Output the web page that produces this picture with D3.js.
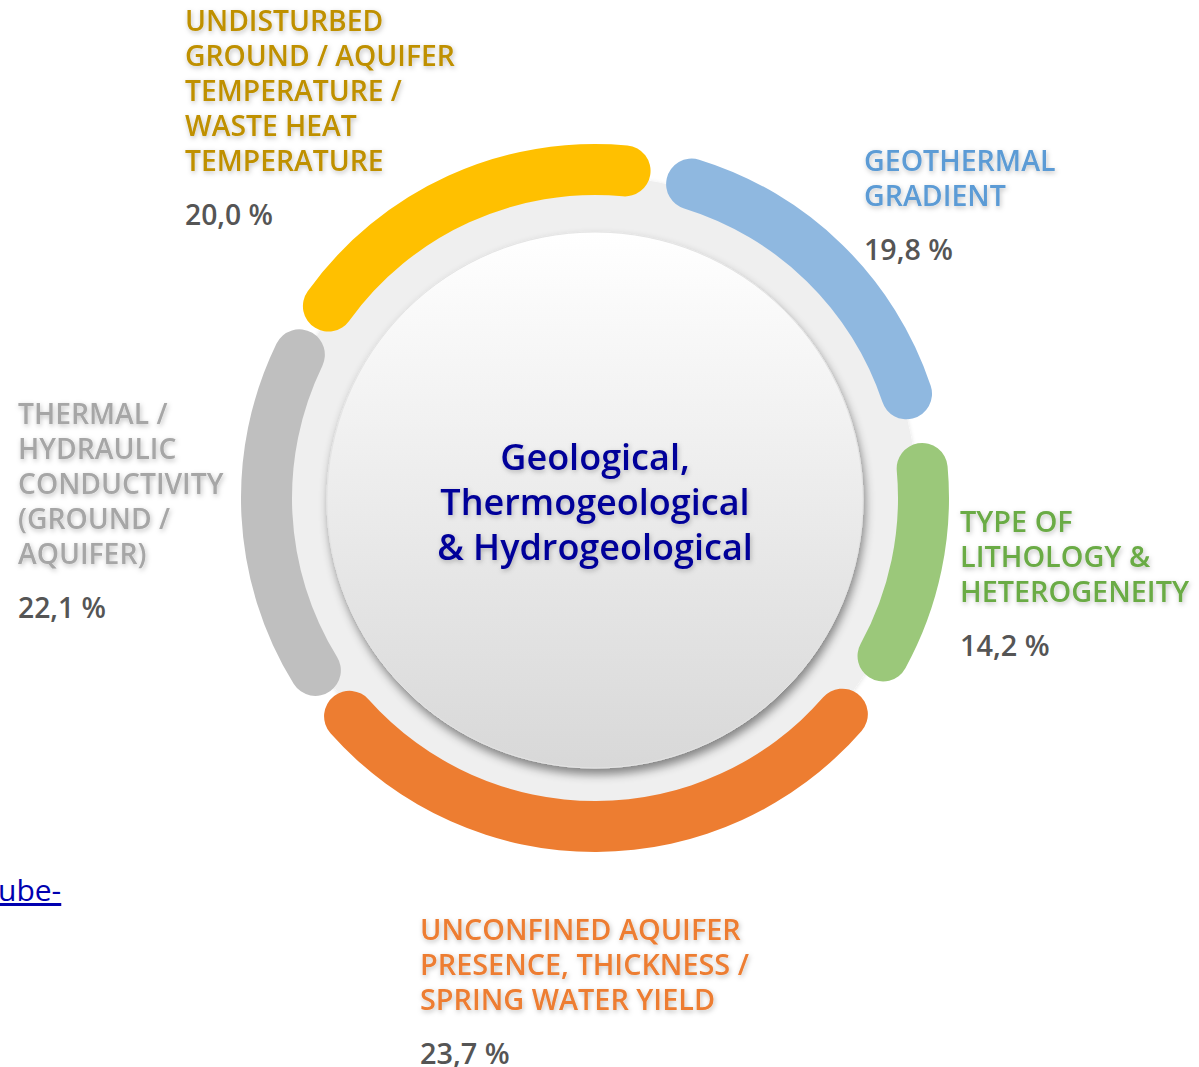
<!DOCTYPE html>
<html>
<head>
<meta charset="utf-8">
<script src="https://cdn.jsdelivr.net/npm/d3@7"></script>
<style>
  body { margin: 0; background: #fff; overflow: hidden; }
  svg { display: block; font-family: "Open Sans", sans-serif; }
</style>
</head>
<body>
<div id="svg-container"></div>
<script>
// data
const categories = [
  ["UNDISTURBED", "GROUND / AQUIFER", "TEMPERATURE /", "WASTE HEAT", "TEMPERATURE"],
  ["GEOTHERMAL", "GRADIENT"],
  ["TYPE OF", "LITHOLOGY &", "HETEROGENEITY"],
  ["UNCONFINED AQUIFER", "PRESENCE, THICKNESS /", "SPRING WATER YIELD"],
  ["THERMAL /", "HYDRAULIC", "CONDUCTIVITY", "(GROUND /", "AQUIFER)"]
];
const shares = [20.0, 19.8, 14.2, 23.7, 22.1];
// degrees of ring each arc covers in the graphic, and the gap after it
const arcSpan = [68.4, 63.3, 42.8, 106.1, 66.4];
const arcGap = [2.95, 4.44, 3.5, 1.1, 1.0];
const centerTitle = ["Geological,", "Thermogeological", "& Hydrogeological"];

// styles
const arcColors = ["#FFC000", "#8FB8E0", "#9BC87A", "#ED7D31", "#BFBFBF"];
const textColors = ["#BF9000", "#5B9BD5", "#6AAB45", "#ED7D31", "#A6A6A6"];
const labelPos = [
  { x: 185, y: 31, sx: 1.01 },
  { x: 864, y: 171, sx: 1.02 },
  { x: 960, y: 532, sx: 1.03 },
  { x: 420, y: 940, sx: 1.03 },
  { x: 18, y: 424, sx: 1.01 }
];

const width = 1199, height = 1067;
const cx = 595, cy = 498;
const deg = Math.PI / 180;
const formatPct = (v) => d3.format(".1f")(v).replace(".", ",") + " %";

const svg = d3.select("#svg-container").append("svg")
  .attr("width", width).attr("height", height);

const defs = svg.append("defs");
const grad = defs.append("linearGradient").attr("id", "disk")
  .attr("x1", 0).attr("y1", 0).attr("x2", 0).attr("y2", 1);
grad.append("stop").attr("offset", "0%").attr("stop-color", "#ffffff");
grad.append("stop").attr("offset", "100%").attr("stop-color", "#d8d8d8");

const shadow = defs.append("filter").attr("id", "diskShadow")
  .attr("x", "-20%").attr("y", "-20%").attr("width", "140%").attr("height", "140%");
shadow.append("feDropShadow").attr("dx", 2).attr("dy", 6).attr("stdDeviation", 5)
  .attr("flood-color", "#000").attr("flood-opacity", 0.45);

const ringShadow = defs.append("filter").attr("id", "ringShadow")
  .attr("x", "-20%").attr("y", "-20%").attr("width", "140%").attr("height", "140%");
ringShadow.append("feDropShadow").attr("dx", 0).attr("dy", 1).attr("stdDeviation", 2)
  .attr("flood-color", "#000").attr("flood-opacity", 0.12);

const txtShadow = defs.append("filter").attr("id", "txtShadow")
  .attr("x", "-10%").attr("y", "-40%").attr("width", "120%").attr("height", "180%");
txtShadow.append("feDropShadow").attr("dx", 1).attr("dy", 2).attr("stdDeviation", 2.5)
  .attr("flood-color", "#000").attr("flood-opacity", 0.25);

// background ring
svg.append("circle")
  .attr("cx", cx).attr("cy", cy).attr("r", 322)
  .attr("fill", "#efefef")
  .attr("filter", "url(#ringShadow)");

// arcs: pie over spans and gaps, only the spans get drawn
const slots = arcSpan.flatMap((s, i) => [s, arcGap[i]]);
const pie = d3.pie()
  .sort(null)
  .value((d) => d)
  .startAngle(-58.7 * deg)
  .endAngle(301.3 * deg);

const arc = d3.arc()
  .innerRadius(303)
  .outerRadius(354)
  .cornerRadius(25.5);

svg.append("g")
  .attr("transform", `translate(${cx},${cy})`)
  .selectAll("path")
  .data(pie(slots).filter((d, i) => i % 2 === 0))
  .join("path")
  .attr("d", arc)
  .attr("fill", (d, i) => arcColors[i]);

// inner disk
svg.append("circle")
  .attr("cx", cx).attr("cy", cy + 2).attr("r", 268)
  .attr("fill", "url(#disk)")
  .attr("stroke", "#e4e4e4")
  .attr("stroke-width", 1)
  .attr("filter", "url(#diskShadow)");

// center title
svg.append("text")
  .attr("x", cx)
  .attr("text-anchor", "middle")
  .attr("font-size", 36)
  .attr("font-weight", 600)
  .attr("fill", "#000099")
  .attr("filter", "url(#txtShadow)")
  .selectAll("tspan")
  .data(centerTitle)
  .join("tspan")
  .attr("x", cx)
  .attr("y", (d, i) => 470 + i * 45)
  .text((d) => d);

// labels
const labels = svg.append("g").selectAll("g")
  .data(categories)
  .join("g")
  .attr("transform", (d, i) =>
    `translate(${labelPos[i].x},${labelPos[i].y}) scale(${labelPos[i].sx},1)`);

labels.append("text")
  .attr("font-size", 28)
  .attr("font-weight", 600)
  .attr("fill", (d, i) => textColors[i])
  .attr("filter", "url(#txtShadow)")
  .selectAll("tspan")
  .data((d) => d)
  .join("tspan")
  .attr("x", 0)
  .attr("y", (d, i) => i * 35)
  .text((d) => d);

labels.append("text")
  .attr("font-size", 28)
  .attr("font-weight", 600)
  .attr("fill", "#555555")
  .attr("y", (d) => (d.length - 1) * 35 + 54)
  .text((d, i) => formatPct(shares[i]));

// cut-off link text at left edge
svg.append("text")
  .attr("x", -2)
  .attr("y", 901)
  .attr("font-size", 30)
  .attr("fill", "#0000B0")
  .attr("text-decoration", "underline")
  .text("ube-");
</script>
</body>
</html>
